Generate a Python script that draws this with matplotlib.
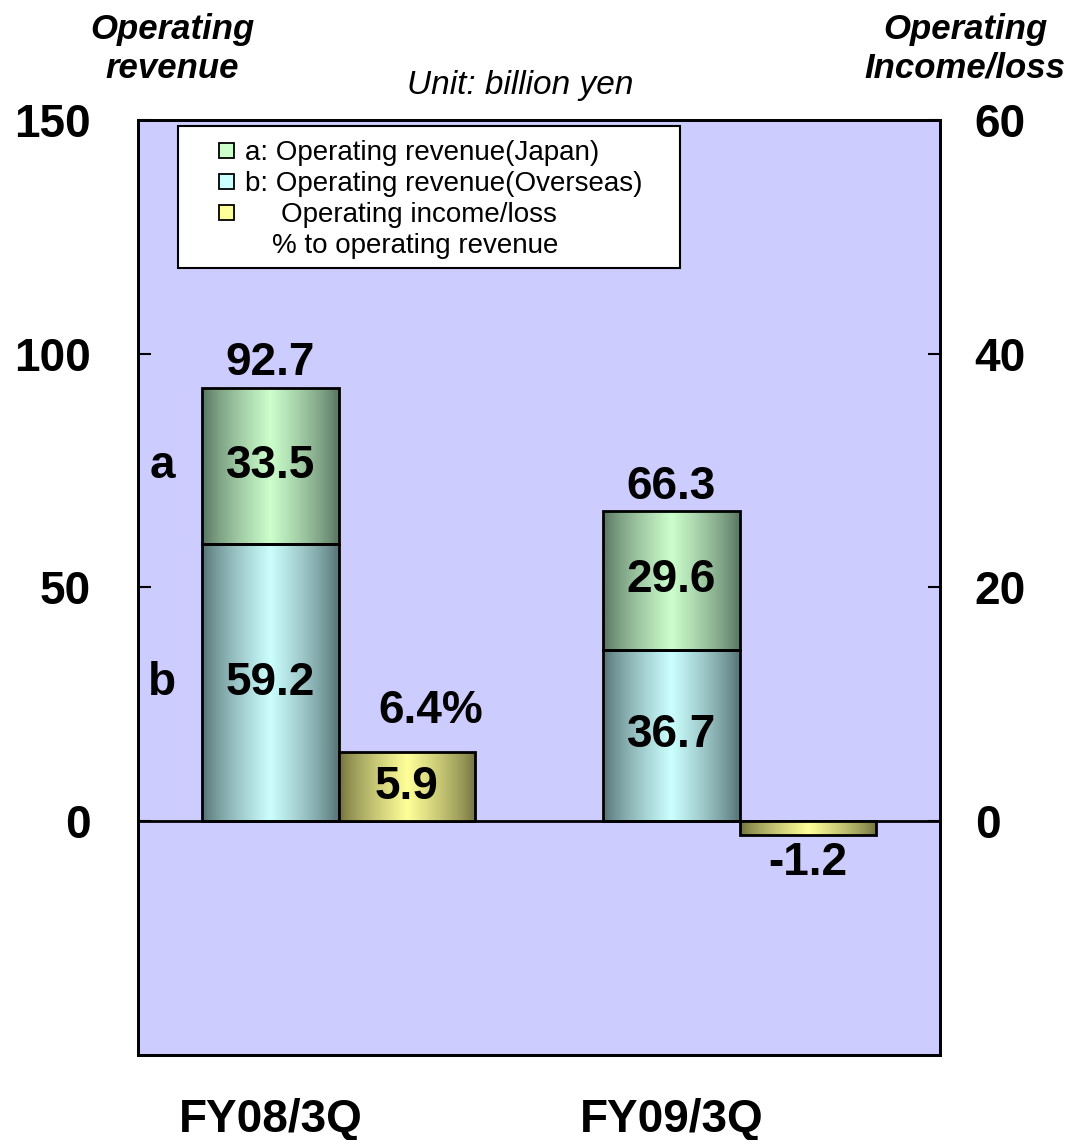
import numpy as np
import matplotlib
matplotlib.use("Agg")
import matplotlib.pyplot as plt
from matplotlib.patches import Rectangle
from matplotlib.colors import to_rgb

plt.rcParams['font.family'] = ['Liberation Sans', 'DejaVu Sans']

## Data
categories = ["FY08/3Q", "FY09/3Q"]
overseas = [59.2, 36.7]        # b
japan = [33.5, 29.6]           # a
total = [92.7, 66.3]
income = [5.9, -1.2]           # right axis
margin = ["6.4%", ""]

## Styles
BG = "#CCCCFF"
GREEN = ("#5e7c68", "#ccffcc")
CYAN = ("#5c7a7c", "#ccffff")
YELLOW = ("#7a7a44", "#ffff99")
W = 0.34


def grad_bar(ax, x, bottom, height, colors):
    # bar outline + horizontal gradient (dark edges, light middle)
    rect = ax.bar(x, height, W, bottom=bottom, facecolor="none",
                  edgecolor="black", lw=2, zorder=4)[0]
    dark, light = np.array(to_rgb(colors[0])), np.array(to_rgb(colors[1]))
    t = np.linspace(0, 1, 256)
    k = np.clip(1 - np.abs(2 * t - 1) * 1.05, 0, 1) ** 0.8
    img = (dark + (light - dark) * k[:, None])[None, :, :]
    lo, hi = sorted([bottom, bottom + height])
    im = ax.imshow(img, extent=[x - W / 2, x + W / 2, lo, hi],
                   aspect="auto", zorder=3, interpolation="bilinear")
    im.set_clip_path(rect)
    return rect


fig = plt.figure(figsize=(10.7, 11.4), dpi=100)
ax = fig.add_axes([0.129, 0.0746, 0.7495, 0.8201])
ax2 = ax.twinx()
ax.set_facecolor(BG)

x = np.arange(len(categories))
xr = x - W / 2   # revenue bars
xi = x + W / 2   # income bars

for i in range(len(categories)):
    grad_bar(ax, xr[i], 0, overseas[i], CYAN)
    grad_bar(ax, xr[i], overseas[i], japan[i], GREEN)
    grad_bar(ax2, xi[i], 0, income[i], YELLOW)

    # labels
    ax.text(xr[i], overseas[i] / 2, f"{overseas[i]:.1f}", ha="center", va="center",
            fontsize=33, fontweight="bold", zorder=5)
    ax.text(xr[i], overseas[i] + japan[i] / 2, f"{japan[i]:.1f}", ha="center", va="center",
            fontsize=33, fontweight="bold", zorder=5)
    ax.annotate(f"{total[i]:.1f}", (xr[i], total[i]), xytext=(0, 2), textcoords="offset points",
                ha="center", va="bottom", fontsize=33, fontweight="bold")
    if income[i] >= 0:
        ax2.text(xi[i], income[i] / 2, f"{income[i]:.1f}", ha="center", va="center",
                 fontsize=33, fontweight="bold", zorder=5)
        ax2.annotate(margin[i], (xi[i], income[i]), xytext=(17, 14), textcoords="offset points",
                     ha="center", va="bottom", fontsize=33, fontweight="bold")
    else:
        ax2.annotate(f"{income[i]:.1f}", (xi[i], income[i]), xytext=(0, -4), textcoords="offset points",
                     ha="center", va="top", fontsize=33, fontweight="bold")

ax.text(-0.44, overseas[0] + japan[0] / 2, "a", ha="center", va="center", fontsize=33, fontweight="bold")
ax.text(-0.44, overseas[0] / 2, "b", ha="center", va="center", fontsize=33, fontweight="bold")

ax.axhline(0, color="black", lw=2, zorder=4)

## Axes
ax.set_xlim(-0.5, 1.5)
ax.set_ylim(-50, 150)
ax2.set_ylim(-20, 60)
ax.set_yticks([0, 50, 100, 150])
ax2.set_yticks([0, 20, 40, 60])
ax.set_xticks(xr)
ax.set_xticklabels(categories)
ax.tick_params(axis="x", length=0, pad=31, labelsize=33)
ax.tick_params(axis="y", direction="in", length=9, width=1.5, pad=34, labelsize=33)
ax2.tick_params(axis="y", direction="in", length=9, width=1.5, pad=25, labelsize=33)
for lab in ax.get_xticklabels() + ax.get_yticklabels() + ax2.get_yticklabels():
    lab.set_fontweight("bold")
for a in (ax, ax2):
    for s in a.spines.values():
        s.set_linewidth(2)
        s.set_color("black")

## Legend (manual)
ax.add_patch(Rectangle((0.05, 0.842), 0.626, 0.152, transform=ax.transAxes,
                       facecolor="white", edgecolor="black", lw=1.5, zorder=6))
rows = [(0.9647, "a: Operating revenue(Japan)", GREEN, 0.1334),
        (0.9316, "b: Operating revenue(Overseas)", CYAN, 0.1334),
        (0.8984, "Operating income/loss", YELLOW, 0.1783)]
for y, label, col, tx in rows:
    ax.add_patch(Rectangle((0.101, y - 0.005), 0.0187, 0.016, transform=ax.transAxes,
                           facecolor=col[1], edgecolor="black", lw=1.3, zorder=7))
    ax.text(tx, y, label, transform=ax.transAxes, ha="left", va="center",
            fontsize=20, zorder=7)
ax.text(0.1671, 0.8652, "% to operating revenue", transform=ax.transAxes, ha="left",
        va="center", fontsize=20, zorder=7)

## Headers
fig.text(0.161, 0.957, "Operating\nrevenue", ha="center", va="center", fontsize=25,
         fontweight="bold", fontstyle="italic", linespacing=1.2)
fig.text(0.902, 0.957, "Operating\nIncome/loss", ha="center", va="center", fontsize=25,
         fontweight="bold", fontstyle="italic", linespacing=1.2)
fig.text(0.486, 0.9254, "Unit: billion yen", ha="center", va="center", fontsize=24,
         fontstyle="italic")

fig.savefig("out.png", dpi=100)
